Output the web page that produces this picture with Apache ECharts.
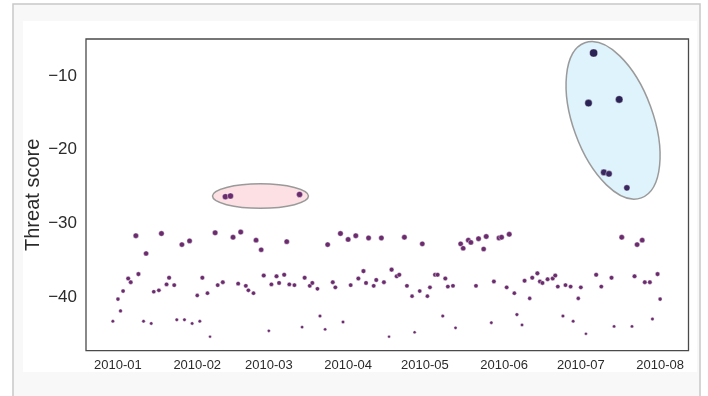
<!DOCTYPE html>
<html><head><meta charset="utf-8">
<script src="https://cdn.jsdelivr.net/npm/echarts@6/dist/echarts.min.js"></script>
<style>html,body{margin:0;padding:0;background:#fff}#c{width:708px;height:396px}</style>
</head><body><div id="c"></div>
<script>
const dates = [
'2009-12-30','2010-01-01','2010-01-02','2010-01-03','2010-01-05','2010-01-06','2010-01-08','2010-01-09','2010-01-11','2010-01-12',
'2010-01-14','2010-01-15','2010-01-17','2010-01-18','2010-01-20','2010-01-21','2010-01-23','2010-01-24','2010-01-26','2010-01-27',
'2010-01-29','2010-01-30','2010-02-01','2010-02-02','2010-02-03','2010-02-05','2010-02-06','2010-02-08','2010-02-09','2010-02-11',
'2010-02-12','2010-02-14','2010-02-15','2010-02-17','2010-02-18','2010-02-20','2010-02-21','2010-02-23','2010-02-24','2010-02-26',
'2010-02-27','2010-03-01','2010-03-02','2010-03-04','2010-03-05','2010-03-07','2010-03-08','2010-03-09','2010-03-11','2010-03-13',
'2010-03-14','2010-03-15','2010-03-17','2010-03-18','2010-03-20','2010-03-21','2010-03-23','2010-03-24','2010-03-26','2010-03-27',
'2010-03-29','2010-03-30','2010-04-01','2010-04-02','2010-04-04','2010-04-05','2010-04-07','2010-04-08','2010-04-09','2010-04-11',
'2010-04-12','2010-04-14','2010-04-15','2010-04-17','2010-04-18','2010-04-20','2010-04-21','2010-04-23','2010-04-24','2010-04-26',
'2010-04-27','2010-04-29','2010-04-30','2010-05-02','2010-05-03','2010-05-05','2010-05-06','2010-05-08','2010-05-09','2010-05-10',
'2010-05-12','2010-05-13','2010-05-15','2010-05-16','2010-05-18','2010-05-19','2010-05-21','2010-05-22','2010-05-24','2010-05-25',
'2010-05-27','2010-05-28','2010-05-30','2010-05-31','2010-06-02','2010-06-03','2010-06-05','2010-06-06','2010-06-08','2010-06-09',
'2010-06-11','2010-06-12','2010-06-14','2010-06-15','2010-06-16','2010-06-18','2010-06-20','2010-06-21','2010-06-22','2010-06-24',
'2010-06-25','2010-06-27','2010-06-28','2010-06-30','2010-07-01','2010-07-03','2010-07-04','2010-07-06','2010-07-07','2010-07-09',
'2010-07-10','2010-07-12','2010-07-13','2010-07-14','2010-07-16','2010-07-17','2010-07-19','2010-07-21','2010-07-22','2010-07-23',
'2010-07-25','2010-07-26','2010-07-28','2010-07-29','2010-07-31','2010-08-01'
];
const scores = [
-43.3,-40.3,-41.9,-39.2,-37.5,-38.0,-31.7,-36.9,-43.3,-34.1,
-43.6,-39.3,-39.1,-31.4,-38.3,-37.4,-38.4,-43.1,-32.9,-43.1,
-32.4,-43.6,-39.8,-43.3,-37.4,-39.5,-45.4,-31.3,-38.4,-38.0,
-26.4,-26.3,-31.9,-38.2,-31.2,-38.5,-39.1,-39.5,-32.3,-33.6,
-37.1,-44.6,-38.3,-37.2,-38.1,-37.0,-32.5,-38.3,-38.4,-26.1,
-44.1,-37.4,-38.5,-38.1,-38.9,-42.6,-44.4,-32.9,-38.0,-38.7,
-31.4,-43.4,-32.2,-38.4,-31.7,-37.5,-36.5,-38.1,-32.0,-38.5,
-37.7,-32.0,-38.0,-45.4,-36.3,-37.2,-37.0,-31.9,-38.5,-39.9,
-44.8,-39.2,-32.8,-39.9,-38.7,-37.0,-37.0,-42.6,-37.5,-38.6,
-38.5,-44.2,-32.8,-33.4,-32.3,-32.6,-38.5,-32.1,-33.5,-31.8,
-43.5,-37.9,-32.0,-31.9,-38.7,-31.5,-39.5,-42.4,-43.8,-37.8,
-40.2,-37.4,-36.8,-37.9,-38.1,-37.6,-37.5,-37.1,-38.6,-42.6,
-38.4,-38.6,-43.3,-40.2,-38.7,-45.0,-13.7,-6.9,-37.0,-38.6,
-23.1,-23.3,-37.4,-44.0,-13.2,-31.9,-25.2,-44.0,-37.2,-32.9,
-32.3,-38.0,-38.0,-43.0,-36.9,-40.3
];
const monthLabels = ['2010-01','2010-02','2010-03','2010-04','2010-05','2010-06','2010-07','2010-08'];
const yTicks = [-40, -30, -20, -10];
// highlighted clusters: centre in data space
const clusterCentres = [['2010-02-25T17:30:00Z', -26.31], ['2010-07-13T14:24:00Z', -16.04]];

const DAY = 864e5;
const t0 = Date.UTC(2010, 0, 1);
const monthValues = monthLabels.map(m => new Date(m + '-01T00:00:00Z').getTime());
const pts = dates.map((d, i) => [new Date(d + 'T00:00:00Z').getTime(), scores[i]]);
function size(v) { return 1.1 * Math.sqrt(Math.max(6, 9 + (v + 44) * 1.25)); }
function color(v) { return v > -20 ? '#2b2356' : (v > -25.6 ? '#3b2861' : '#6b2c6e'); }
const FONT = '"Liberation Sans", Arial, sans-serif';

const chart = echarts.init(document.getElementById('c'), null, {renderer: 'canvas'});
chart.setOption({
  animation: false,
  backgroundColor: '#fff',
  grid: {left: 86, right: 19.5, top: 39, bottom: 45.3, show: true, borderColor: '#4a4a4a', borderWidth: 1.3, backgroundColor: 'transparent'},
  xAxis: {
    type: 'value', min: t0 - 12.5 * DAY, max: t0 + 223.1 * DAY,
    axisLine: {show: false}, axisTick: {show: false}, splitLine: {show: false},
    axisLabel: {
      customValues: monthValues,
      formatter: v => { const i = monthValues.indexOf(v); return i >= 0 ? monthLabels[i] : ''; },
      color: '#2b2b2b', fontSize: 13, fontFamily: FONT, margin: 8, hideOverlap: false
    }
  },
  yAxis: {
    type: 'value', min: -47.3, max: -5.0,
    name: 'Threat score', nameLocation: 'middle', nameGap: 43, nameMoveOverlap: false,
    nameTextStyle: {fontSize: 20, color: '#2b2b2b', fontFamily: FONT},
    axisLine: {show: false}, axisTick: {show: false}, splitLine: {show: false},
    axisLabel: {
      customValues: yTicks,
      formatter: v => (v < 0 ? '\u2212' : '') + Math.abs(v),
      fontSize: 17, color: '#2b2b2b', fontFamily: FONT, margin: 9
    }
  },
  series: [{
    type: 'scatter', z: 10, data: pts,
    symbolSize: val => size(val[1]),
    itemStyle: {color: p => color(p.value[1]), borderColor: '#fff', borderWidth: 0.4, opacity: 1}
  }]
});

const c1 = chart.convertToPixel({gridIndex: 0}, [new Date(clusterCentres[0][0]).getTime(), clusterCentres[0][1]]);
const c2 = chart.convertToPixel({gridIndex: 0}, [new Date(clusterCentres[1][0]).getTime(), clusterCentres[1][1]]);
chart.setOption({
  graphic: [
    {type: 'rect', z: -10, silent: true, shape: {x: 13, y: 4, width: 687, height: 400}, style: {fill: '#f8f8f8', stroke: '#c8c8c8', lineWidth: 1.5}},
    {type: 'rect', z: -9, silent: true, shape: {x: 23, y: 21, width: 674, height: 351}, style: {fill: '#ffffff'}},
    {type: 'ellipse', z: 3, silent: true, x: c1[0], y: c1[1], shape: {cx: 0, cy: 0, rx: 48, ry: 12.2}, style: {fill: '#fce0e4', stroke: '#9a9a9a', lineWidth: 1.5}},
    {type: 'ellipse', z: 3, silent: true, x: c2[0], y: c2[1], rotation: 20 * Math.PI / 180, shape: {cx: 0, cy: 0, rx: 40, ry: 82.5}, style: {fill: '#def3fc', stroke: '#9a9a9a', lineWidth: 1.5}}
  ]
});
</script>
</body></html>
